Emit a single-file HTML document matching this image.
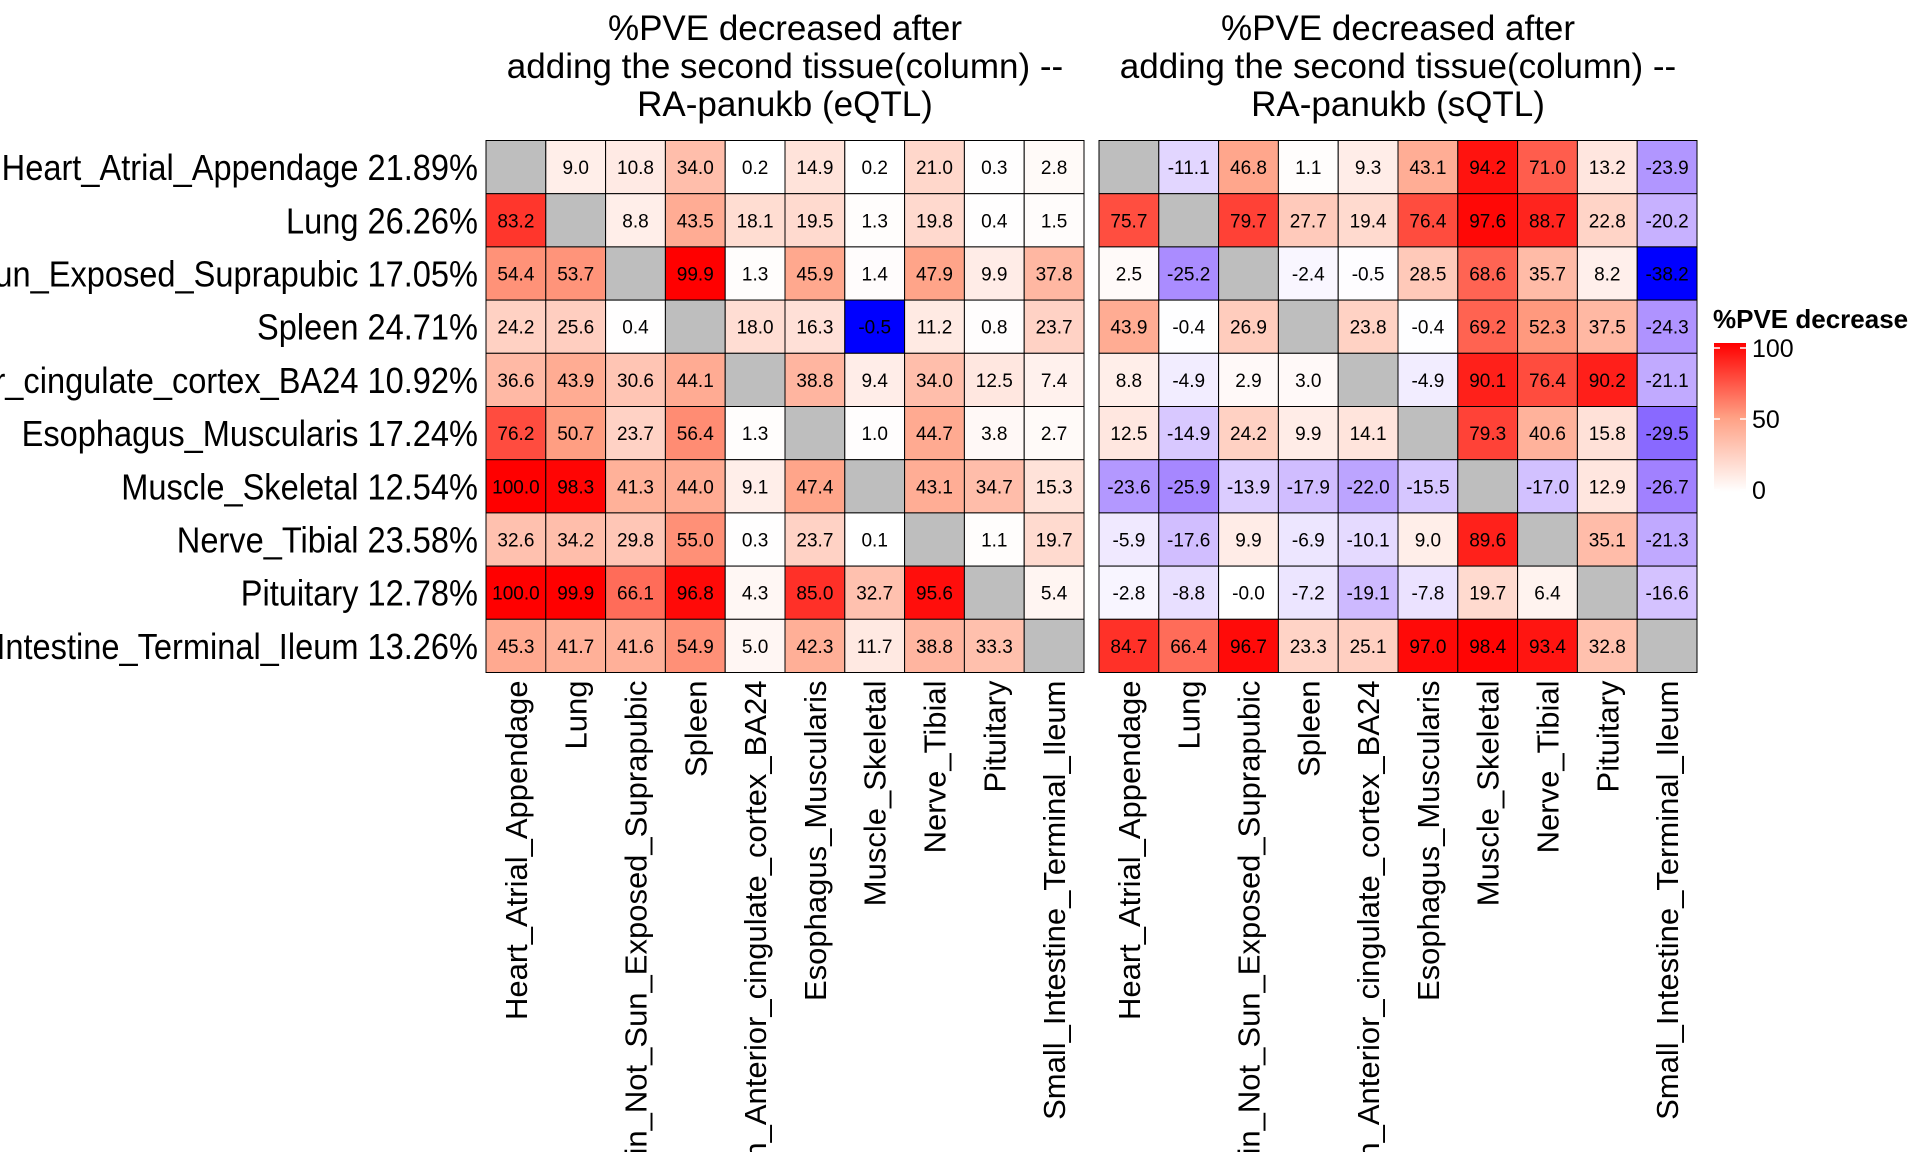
<!DOCTYPE html>
<html><head><meta charset="utf-8"><style>
html,body{margin:0;padding:0;background:#fff;overflow:hidden}
svg{display:block;font-family:"Liberation Sans",sans-serif}
</style></head><body>
<svg id="chart" width="1920" height="1152" viewBox="0 0 1920 1152" xmlns="http://www.w3.org/2000/svg"></svg>
<script>
const rowNames = ["Heart_Atrial_Appendage","Lung","Skin_Not_Sun_Exposed_Suprapubic","Spleen","Brain_Anterior_cingulate_cortex_BA24","Esophagus_Muscularis","Muscle_Skeletal","Nerve_Tibial","Pituitary","Small_Intestine_Terminal_Ileum"];
const rowPct = ["21.89%","26.26%","17.05%","24.71%","10.92%","17.24%","12.54%","23.58%","12.78%","13.26%"];
const colNames = rowNames;
const eqtlValues = [
[null,9.0,10.8,34.0,0.2,14.9,0.2,21.0,0.3,2.8],
[83.2,null,8.8,43.5,18.1,19.5,1.3,19.8,0.4,1.5],
[54.4,53.7,null,99.9,1.3,45.9,1.4,47.9,9.9,37.8],
[24.2,25.6,0.4,null,18.0,16.3,-0.5,11.2,0.8,23.7],
[36.6,43.9,30.6,44.1,null,38.8,9.4,34.0,12.5,7.4],
[76.2,50.7,23.7,56.4,1.3,null,1.0,44.7,3.8,2.7],
[100.0,98.3,41.3,44.0,9.1,47.4,null,43.1,34.7,15.3],
[32.6,34.2,29.8,55.0,0.3,23.7,0.1,null,1.1,19.7],
[100.0,99.9,66.1,96.8,4.3,85.0,32.7,95.6,null,5.4],
[45.3,41.7,41.6,54.9,5.0,42.3,11.7,38.8,33.3,null]];
const sqtlValues = [
[null,-11.1,46.8,1.1,9.3,43.1,94.2,71.0,13.2,-23.9],
[75.7,null,79.7,27.7,19.4,76.4,97.6,88.7,22.8,-20.2],
[2.5,-25.2,null,-2.4,-0.5,28.5,68.6,35.7,8.2,-38.2],
[43.9,-0.4,26.9,null,23.8,-0.4,69.2,52.3,37.5,-24.3],
[8.8,-4.9,2.9,3.0,null,-4.9,90.1,76.4,90.2,-21.1],
[12.5,-14.9,24.2,9.9,14.1,null,79.3,40.6,15.8,-29.5],
[-23.6,-25.9,-13.9,-17.9,-22.0,-15.5,null,-17.0,12.9,-26.7],
[-5.9,-17.6,9.9,-6.9,-10.1,9.0,89.6,null,35.1,-21.3],
[-2.8,-8.8,-0.0,-7.2,-19.1,-7.8,19.7,6.4,null,-16.6],
[84.7,66.4,96.7,23.3,25.1,97.0,98.4,93.4,32.8,null]];
const legendTicks = [0,50,100];
const titles = [["%PVE decreased after","adding the second tissue(column) --","RA-panukb (eQTL)"],["%PVE decreased after","adding the second tissue(column) --","RA-panukb (sQTL)"]];

const NS="http://www.w3.org/2000/svg";
const svg=document.getElementById('chart');
function mk(tag,attrs,parent){const e=document.createElementNS(NS,tag);for(const k in attrs)e.setAttribute(k,attrs[k]);(parent||svg).appendChild(e);return e;}
function lerp(a,b,t){return a.map((v,i)=>Math.round(v+(b[i]-v)*t));}
function posColor(v){const t=Math.max(0,Math.min(1,v/100));
  return t<0.5?lerp([255,255,255],[255,160,132],t/0.5):lerp([255,160,132],[255,0,0],(t-0.5)/0.5);}
function negColor(v,min){const t=Math.max(0,Math.min(1,v/min));
  if(t<0.5) return lerp([255,255,255],[205,185,255],t/0.5);
  if(t<0.75) return lerp([205,185,255],[150,115,255],(t-0.5)/0.25);
  return lerp([150,115,255],[0,0,255],(t-0.75)/0.25);}
function color(v,min){const c=v>=0?posColor(v):negColor(v,min);return `rgb(${c[0]},${c[1]},${c[2]})`;}

const gridTop=140.5, rowH=53.2, colW=59.8;
const panels=[{x0:486,data:eqtlValues},{x0:1099,data:sqtlValues}];
function yPos(i){return gridTop+i*rowH;}

const rl=mk('g',{transform:'translate(478 0) scale(0.905 1)'});


rowNames.forEach((n,i)=>{
  const t=mk('text',{x:0,y:yPos(i)+rowH/2+13,'text-anchor':'end','font-size':36,fill:'#000'},rl);
  
  
  t.textContent=n+' '+rowPct[i];
});

panels.forEach((p,pi)=>{
  const g=mk('g',{});
  
  
  let min=0;p.data.forEach(r=>r.forEach(v=>{if(v!==null&&v<min)min=v;}));
  const xPos=j=>p.x0+j*colW;
  titles[pi].forEach((line,li)=>{
    const t=mk('text',{x:p.x0+5*colW,y:40+li*38,'text-anchor':'middle','font-size':35,fill:'#000'},g);
    
    
    t.textContent=line;
  });
  p.data.forEach((row,i)=>row.forEach((v,j)=>{
    const r=mk('rect',{x:xPos(j),y:yPos(i),width:colW,height:rowH,fill:v===null?'#bebebe':color(v,min),stroke:'#000','stroke-width':1},g);
    
    
    if(v!==null){
      const t=mk('text',{x:xPos(j)+colW/2,y:yPos(i)+rowH/2+7,'text-anchor':'middle','font-size':19,fill:'#000'},g);
      
      
      t.textContent=(Object.is(v,-0)?'-0.0':v.toFixed(1));
    }
  }));
  colNames.forEach((n,j)=>{
    const cx=xPos(j)+colW/2+11, cy=yPos(10)+8;
    const t=mk('text',{x:cx,y:cy,'text-anchor':'end','font-size':31,fill:'#000',transform:`rotate(-90 ${cx} ${cy})`},g);
    
    
    t.textContent=n;
  });
});

const lg=mk('g',{});


const lt=mk('text',{x:1713,y:328,'font-size':26,'font-weight':'bold',fill:'#000'},lg);


lt.textContent='%PVE decrease';
const defs=mk('defs',{});
const grad=mk('linearGradient',{id:'lgd',x1:0,y1:1,x2:0,y2:0},defs);
[0,25,50,75,100].forEach(v=>mk('stop',{offset:v/100,'stop-color':color(v,-1)},grad));
const lb0=492,lb1=343;
const ly=v=>490+(348-490)*v/100;
const bar=mk('rect',{x:1714,y:lb1,width:32,height:lb0-lb1,fill:'url(#lgd)'},lg);


legendTicks.forEach(v=>{
  mk('line',{x1:1714,x2:1720,y1:ly(v),y2:ly(v),stroke:'#fff','stroke-width':1.5},lg);
  mk('line',{x1:1740,x2:1746,y1:ly(v),y2:ly(v),stroke:'#fff','stroke-width':1.5},lg);
  const t=mk('text',{x:1752,y:ly(v)+9,'font-size':25,fill:'#000'},lg);
  
  
  t.textContent=v;
});
</script>
</body></html>
